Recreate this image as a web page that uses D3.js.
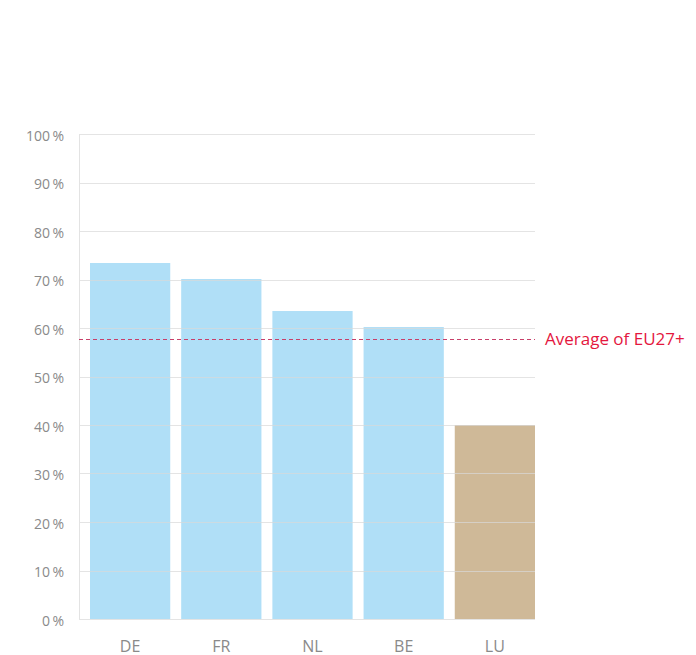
<!DOCTYPE html>
<html>
<head>
<meta charset="utf-8">
<script src="https://cdn.jsdelivr.net/npm/d3@7"></script>
<style>
  body { margin: 0; background: #fff; }
  svg { display: block; font-family: "Open Sans", sans-serif; }
</style>
</head>
<body>
<svg id="chart" width="696" height="655"></svg>
<script>
// data
var countries = ["DE", "FR", "NL", "BE", "LU"];
var shares = [73.4, 70.1, 63.5, 60.2, 40.0];
var highlight = ["LU"];
var euAverage = 57.7;
var avgLabel = "Average of EU27+";
var yTicks = [0, 10, 20, 30, 40, 50, 60, 70, 80, 90, 100];

var svg = d3.select("#chart");
var plotLeft = 79, plotRight = 535, plotTop = 134, plotBottom = 619;

var x = d3.scaleBand()
  .domain(countries)
  .range([plotLeft + 11, plotRight])
  .paddingInner(0.12)
  .paddingOuter(0);

var y = d3.scaleLinear().domain([0, 100]).range([plotBottom, plotTop]);

// bars
svg.append("g")
  .selectAll("rect")
  .data(countries)
  .enter()
  .append("rect")
  .attr("x", function (d) { return x(d); })
  .attr("width", x.bandwidth())
  .attr("y", function (d, i) { return y(shares[i]); })
  .attr("height", function (d, i) { return y(0) - y(shares[i]); })
  .attr("fill", function (d) { return highlight.indexOf(d) >= 0 ? "#cfb998" : "#b0dff7"; });

// gridlines sit on top of the bars
svg.append("g")
  .selectAll("line")
  .data(yTicks)
  .enter()
  .append("line")
  .attr("x1", plotLeft)
  .attr("x2", plotRight)
  .attr("y1", function (d) { return Math.round(y(d)) + 0.5; })
  .attr("y2", function (d) { return Math.round(y(d)) + 0.5; })
  .attr("stroke", "#d8d8d8")
  .attr("stroke-opacity", 0.7);

// y axis line
svg.append("line")
  .attr("x1", plotLeft + 0.5).attr("x2", plotLeft + 0.5)
  .attr("y1", plotTop).attr("y2", plotBottom)
  .attr("stroke", "#e3e3e3");

// y tick labels
svg.append("g")
  .selectAll("text")
  .data(yTicks)
  .enter()
  .append("text")
  .attr("x", 64)
  .attr("y", function (d) { return y(d) + 2; })
  .attr("dy", "0.35em")
  .attr("text-anchor", "end")
  .attr("fill", "#8a8a8a")
  .style("font-size", "14px")
  .text(function (d) { return d + "\u2009%"; });

// x labels
svg.append("g")
  .selectAll("text")
  .data(countries)
  .enter()
  .append("text")
  .attr("x", function (d) { return x(d) + x.bandwidth() / 2; })
  .attr("y", 652)
  .attr("text-anchor", "middle")
  .attr("fill", "#8a8a8a")
  .style("font-size", "16px")
  .text(function (d) { return d; });

// average line
svg.append("line")
  .attr("x1", plotLeft)
  .attr("x2", plotRight)
  .attr("y1", Math.round(y(euAverage)) + 0.5)
  .attr("y2", Math.round(y(euAverage)) + 0.5)
  .attr("stroke", "#c8406a")
  .attr("stroke-dasharray", "4,3");

svg.append("text")
  .attr("x", 545)
  .attr("y", y(euAverage))
  .attr("dy", "0.35em")
  .attr("fill", "#e4173e")
  .style("font-size", "17px")
  .text(avgLabel);
</script>
</body>
</html>
